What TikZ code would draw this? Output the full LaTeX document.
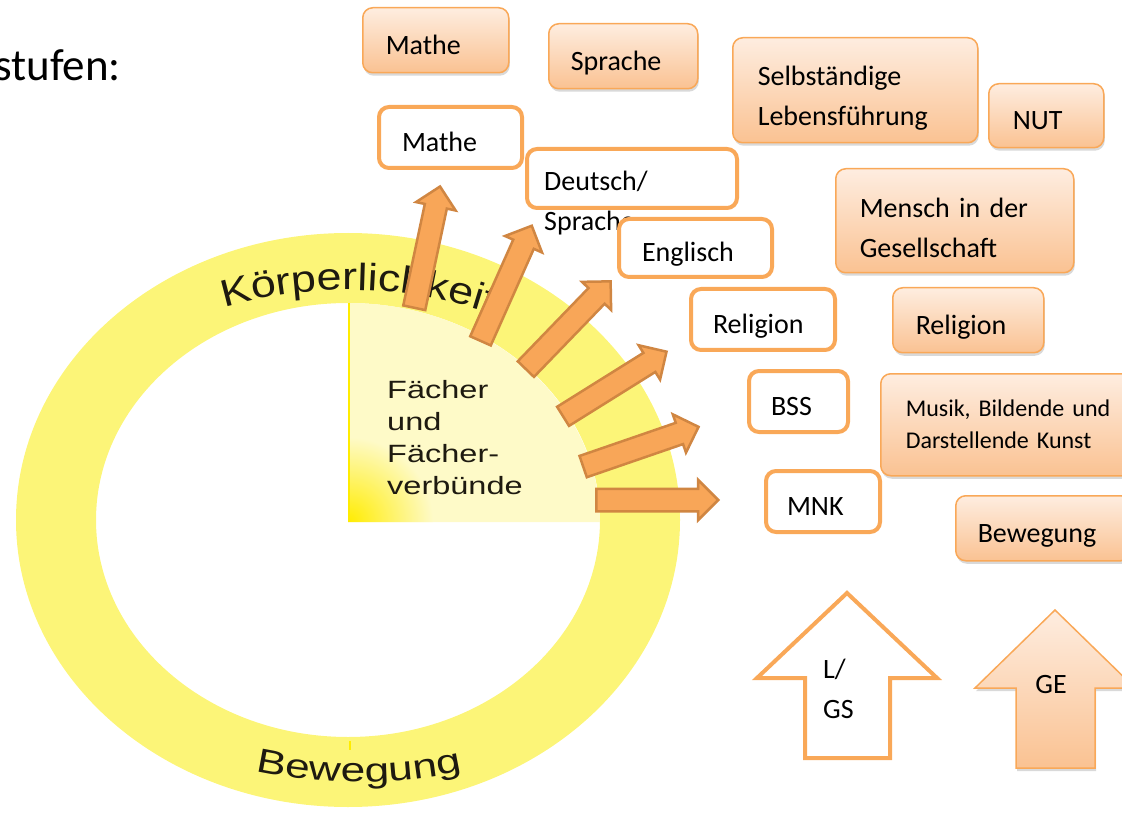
\documentclass[tikz,border=0pt]{standalone}
\usepackage{fontspec}
\setmainfont{Carlito}
\newfontfamily\ringfont[FakeStretch=1.3]{Liberation Sans}
\newfontfamily\topringfont[FakeStretch=1.18]{Liberation Sans}
\usepackage{tikz}
\usetikzlibrary{shapes.arrows, shadows, decorations.text}

\definecolor{ringyellow}{RGB}{252,245,120}
\definecolor{pielight}{RGB}{254,250,200}
\definecolor{pieyellow}{RGB}{255,236,0}
\definecolor{arrowfill}{RGB}{248,166,88}
\definecolor{arrowdraw}{RGB}{208,134,66}
\definecolor{boxline}{RGB}{249,168,88}
\definecolor{boxtop}{RGB}{254,237,224}
\definecolor{boxbottom}{RGB}{250,194,146}
\definecolor{ringtext}{RGB}{30,26,16}

\newcommand{\boxfont}{\fontsize{28}{40}\selectfont}
\newcommand{\smallboxfont}{\fontsize{24}{32}\selectfont}

\begin{document}
\begin{tikzpicture}[x=1pt, y=-1pt,
	whitebox/.style={draw=boxline, line width=4pt, fill=white, rounded corners=10pt,
		anchor=north west, align=left, font=\boxfont, inner ysep=0pt},
	orangebox/.style={draw=boxline, line width=1.5pt, top color=boxtop, bottom color=boxbottom,
		rounded corners=10pt, drop shadow={shadow xshift=1pt, shadow yshift=-3pt, opacity=0.3},
		anchor=north west, align=left, font=\boxfont, inner ysep=0pt},
	oneline/.style={text height=32pt, text depth=4pt},
	radarrow/.style={single arrow, draw=arrowdraw, fill=arrowfill, line width=2.5pt,
		single arrow head extend=9pt, single arrow tip angle=90,
		inner xsep=0pt, inner ysep=10pt, anchor=tail}]
	\useasboundingbox (0,0) rectangle (1122,818);

	\node[anchor=base west, inner sep=0pt, font=\fontsize{45}{54}\selectfont] (title) at (-6,81) {stufen:};

	% ring and quarter
	\fill[ringyellow, even odd rule] (348,520) ellipse [x radius=332pt, y radius=287pt]
		(348,520) ellipse [x radius=252pt, y radius=217pt];
	\fill[pielight] (348,522) -- ++(0pt,219pt) arc[start angle=90, end angle=0, x radius=252pt, y radius=219pt] -- cycle;
	\begin{scope}
		\clip (348,522) -- ++(0pt,219pt) arc[start angle=90, end angle=0, x radius=252pt, y radius=219pt] -- cycle;
		\shade[inner color=pieyellow, outer color=pielight] (348,522) circle (85pt);
	\end{scope}
	\draw[pieyellow, line width=2pt] (349,303) -- (349,522);
	\draw[pieyellow, line width=2pt] (350,741) -- (350,750);
	\node[align=left, anchor=north west, inner sep=0pt, font=\ringfont\fontsize{25}{32}\selectfont,
		text=ringtext] (faecher) at (387,380) {Fächer\\und\\Fächer-\\verbünde};

	% texts on the ring
	\path[decorate, decoration={text along path, text={|\topringfont\fontsize{38}{40}\selectfont|Körperlichkeit},
		text align=left, text color=ringtext}]
		(348,530) ++(112:330pt and 240pt) arc[start angle=112, end angle=20, x radius=330pt, y radius=240pt];
	\path[decorate, decoration={text along path, text={|\ringfont\fontsize{34}{40}\selectfont|Bewegung},
		text align=center, text color=ringtext}]
		(359,520) ++(235:360pt and 262pt) arc[start angle=235, end angle=305, x radius=360pt, y radius=262pt];

	% arrows out of the quarter
	\node[radarrow, minimum height=124pt, rotate=78] (arrMathe) at (414,309) {};
	\node[radarrow, minimum height=126pt, rotate=66] (arrDeutsch) at (480,342) {};
	\node[radarrow, minimum height=122pt, rotate=46] (arrEnglisch) at (525,370) {};
	\node[radarrow, minimum height=122pt, rotate=32] (arrReligion) at (562,417) {};
	\node[radarrow, minimum height=122pt, rotate=19] (arrBSS) at (582,467) {};
	\node[radarrow, minimum height=122pt, rotate=0] (arrMNK) at (595,500) {};

	% orange boxes
	\node[orangebox, oneline, text width=100pt, inner xsep=23pt, minimum height=65pt] (oMathe) at (362,7) {Mathe};
	\node[orangebox, oneline, text width=105pt, inner xsep=22pt, minimum height=65pt] (oSprache) at (548,23) {Sprache};
	\node[orangebox, text width=195pt, inner xsep=25pt, minimum height=105pt] (oSelbst) at (732,37)
		{\rule{0pt}{36pt}Selbständige\\Lebensführung};
	\node[orangebox, oneline, text width=67pt, inner xsep=24pt, minimum height=64pt] (oNUT) at (988,83) {NUT};
	\node[orangebox, text width=190pt, inner xsep=24pt, minimum height=104pt] (oMensch) at (835,168)
		{\rule{0pt}{33pt}Mensch in der\\Gesellschaft};
	\node[orangebox, oneline, text width=105pt, inner xsep=23pt, minimum height=65pt] (oReligion) at (892,287) {Religion};
	\node[orangebox, font=\smallboxfont, text width=210pt, inner xsep=25pt, minimum height=102pt] (oMusik) at (880,373)
		{Musik, Bildende und\\Darstellende Kunst};
	\node[orangebox, oneline, text width=131pt, inner xsep=22pt, minimum height=65pt] (oBewegung) at (955,495) {Bewegung};

	% white boxes
	\node[whitebox, oneline, text width=97pt, inner xsep=23pt, minimum height=61pt] (wMathe) at (377,105) {Mathe};
	\node[whitebox, inner sep=0pt, minimum width=210pt, minimum height=59pt] (wDeutsch) at (525,147) {};
	\node[anchor=north west, align=left, inner sep=0pt, font=\boxfont] (wDeutschTxt) at (544,171) {Deutsch/\\Sprache};
	\node[whitebox, oneline, text width=107pt, inner xsep=23pt, minimum height=58pt] (wEnglisch) at (617,217) {Englisch};
	\node[whitebox, oneline, text width=100pt, inner xsep=22pt, minimum height=61pt] (wReligion) at (689,287) {Religion};
	\node[whitebox, oneline, text width=55pt, inner xsep=22pt, minimum height=61pt] (wBSS) at (747,369) {BSS};
	\node[whitebox, oneline, text width=72pt, inner xsep=21pt, minimum height=61pt] (wMNK) at (764,469) {MNK};

	% school types
	\draw[boxline, line width=4pt, fill=white] (847,593) -- (937,678) -- (890,678) -- (890,758)
		-- (805,758) -- (805,678) -- (757,678) -- cycle;
	\node[anchor=north west, align=left, inner sep=0pt, font=\boxfont] (lgs) at (823,659) {L/\\GS};
	\draw[boxline, line width=1.5pt, top color=boxtop, bottom color=boxbottom,
		drop shadow={shadow xshift=1pt, shadow yshift=-3pt, opacity=0.3}]
		(1055,610) -- (1135,688) -- (1095,688) -- (1095,768) -- (1016,768) -- (1016,688) -- (975,688) -- cycle;
	\node[font=\boxfont] (ge) at (1051,685) {GE};
\end{tikzpicture}
\end{document}
